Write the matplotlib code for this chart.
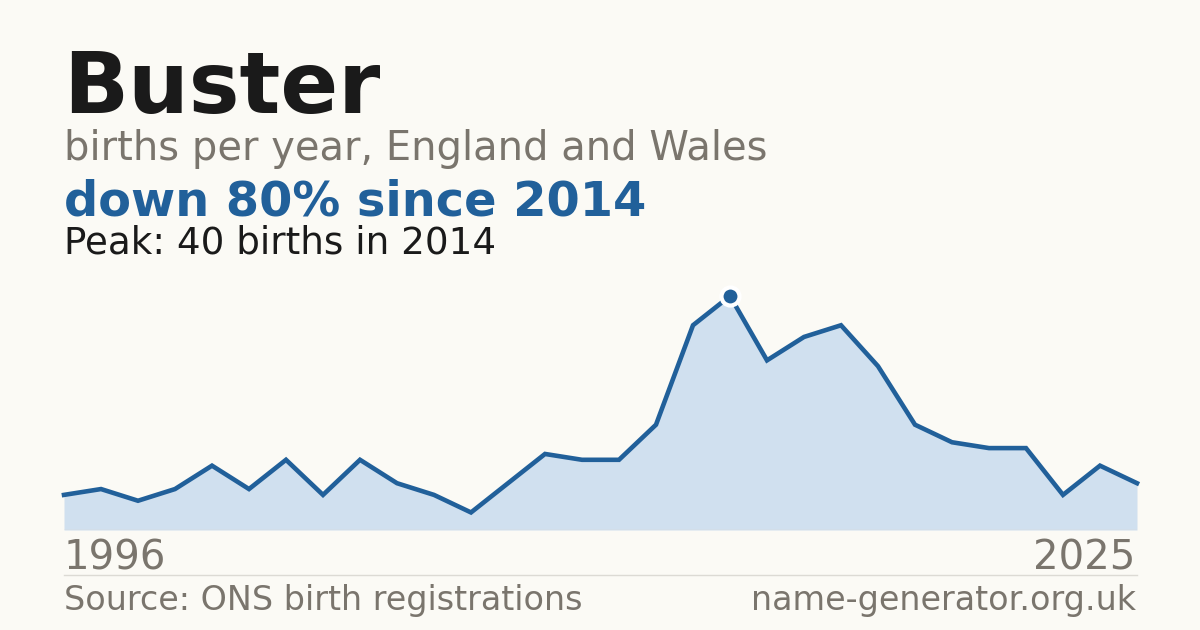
import matplotlib
matplotlib.use("Agg")
import matplotlib.pyplot as plt
import numpy as np

# births per year
years = list(range(1996, 2026))
births = [6, 7, 5, 7, 11, 7, 12, 6, 12, 8, 6, 3, 8, 13, 12, 12, 18, 35, 40,
          29, 33, 35, 28, 18, 15, 14, 14, 6, 11, 8]

name = "Buster"
subtitle = "births per year, England and Wales"
source = "Source: ONS birth registrations"
site = "name-generator.org.uk"

BG = "#fbfaf5"
LINE = "#21609a"
FILL = "#d0e0ef"
GREY = "#7a756d"
DARK = "#1a1a1a"

W, H = 1200, 630
fig = plt.figure(figsize=(W / 100, H / 100), dpi=100, facecolor=BG)


def px(x, y):
    return x / W, 1 - y / H


peak_i = int(np.argmax(births))
peak_year, peak_val = years[peak_i], births[peak_i]
change = round((births[-1] - peak_val) / peak_val * 100)

# header text
fig.text(*px(63, 113), name, fontsize=61.5, fontweight="bold", color=DARK, va="baseline")
fig.text(*px(64, 160), subtitle, fontsize=28.8, color=GREY, va="baseline")
fig.text(*px(64, 215), f"down {abs(change)}% since {peak_year}", fontsize=34.5,
         fontweight="bold", color=LINE, va="baseline")
fig.text(*px(64, 253), f"Peak: {peak_val} births in {peak_year}", fontsize=26.8,
         color=DARK, va="baseline")

# chart area
left, right, bottom, top = 64, 1137, 530, 270
ax = fig.add_axes([left / W, (H - bottom) / H, (right - left) / W, (bottom - top) / H])
ax.set_facecolor(BG)
ax.patch.set_alpha(0)
ax.fill_between(years, births, 0, color=FILL, linewidth=0)
ax.plot(years, births, color=LINE, linewidth=3.3, solid_joinstyle="miter", clip_on=False)
ax.plot([peak_year], [peak_val], "o", color=LINE, markersize=13,
        markeredgecolor="white", markeredgewidth=3, clip_on=False, zorder=5)
ax.set_xlim(years[0], years[-1])
ax.set_ylim(0, peak_val * (bottom - top) / 234)
for s in ax.spines.values():
    s.set_visible(False)
ax.axhline(0, color="#dcdad4", linewidth=1)
ax.set_xticks([])
ax.set_yticks([])

# year labels
fig.text(*px(64, 569), str(years[0]), fontsize=28.9, color=GREY, va="baseline")
fig.text(*px(1135, 569), str(years[-1]), fontsize=28.9, color=GREY, va="baseline", ha="right")

# separator and footer
fig.add_artist(plt.Line2D([left / W, right / W], [1 - 574.5 / H] * 2, color="#dcdad4",
                          linewidth=1, transform=fig.transFigure))
fig.text(*px(64, 610), source, fontsize=24, color=GREY, va="baseline")
fig.text(*px(1136, 610), site, fontsize=24, color=GREY, va="baseline", ha="right")

fig.savefig("out.png", dpi=100, facecolor=BG)
